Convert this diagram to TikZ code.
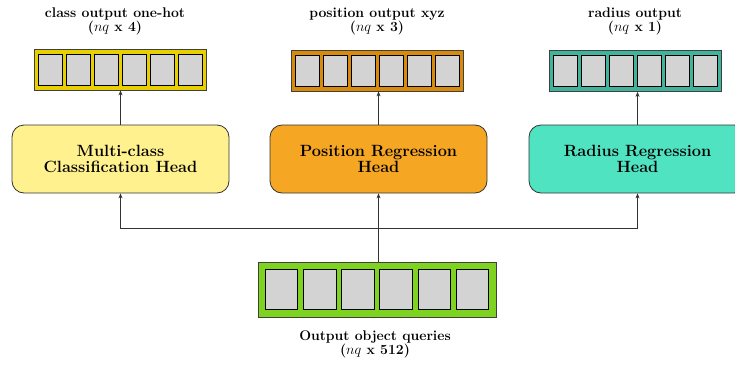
\documentclass[tikz,border=0pt]{standalone}
\usetikzlibrary{arrows.meta}
\definecolor{cellgray}{HTML}{D3D3D3}
\definecolor{baryellow}{HTML}{E8D000}
\definecolor{headyellow}{HTML}{FFF18E}
\definecolor{barorange}{HTML}{D88A0C}
\definecolor{headorange}{HTML}{F5A623}
\definecolor{barteal}{HTML}{42B39B}
\definecolor{headteal}{HTML}{50E3C2}
\definecolor{bargreen}{HTML}{7ED321}
\begin{document}
\begin{tikzpicture}[x=1pt,y=-1pt,
  head/.style={draw=black!80, line width=0.8pt, rounded corners=12pt, minimum width=217pt, minimum height=68pt, align=center, inner sep=0pt, font=\fontsize{16.3}{16.5}\selectfont\bfseries},
  bar/.style={draw=black!75, line width=0.8pt, minimum width=172pt, minimum height=41pt, inner sep=0pt},
  bigbar/.style={draw=black!75, line width=0.8pt, minimum width=238pt, minimum height=55pt, inner sep=0pt},
  cell/.style={draw=black, fill=cellgray, line width=0.8pt, minimum width=24pt, minimum height=31pt, inner sep=0pt},
  bigcell/.style={draw=black, fill=cellgray, line width=0.8pt, minimum width=32.5pt, minimum height=40pt, inner sep=0pt},
  lbl/.style={align=center, inner sep=0pt, font=\fontsize{14}{14}\selectfont\bfseries},
  arr/.style={-{Stealth[length=5pt,width=4pt]}, line width=0.7pt, draw=black!80}]
\useasboundingbox (0,0) rectangle (735,364);
\clip (0,0) rectangle (735,364);
% heads
\node[head, fill=headyellow] (hc) at (120.5,159) {Multi-class\\Classification Head};
\node[head, fill=headorange] (hp) at (378.5,159) {Position Regression\\Head};
\node[head, fill=headteal] (hr) at (637.5,159) {Radius Regression\\Head};
% output bars
\node[bar, fill=baryellow] (bc) at (120,69.5) {};
\node[bar, fill=barorange] (bp) at (377,70.5) {};
\node[bar, fill=barteal] (br) at (635,71) {};
\foreach \i in {0,...,5}{
  \node[cell] (bc\i) at (120.5-70+28*\i,69.5) {};
  \node[cell] (bp\i) at (377.5-70+28*\i,70.5) {};
  \node[cell] (br\i) at (635.5-70+28*\i,71) {};
}
% labels
\node[lbl] (lc) at (115,21) {class output one-hot\\($nq$ x 4)};
\node[lbl] (lp) at (377,21) {position output xyz\\($nq$ x 3)};
\node[lbl] (lr) at (635,21) {radius output\\($nq$ x 1)};
% bottom queries
\node[bigbar, fill=bargreen] (q) at (377,289.5) {};
\foreach \i in {0,...,5}{
  \node[bigcell] (q\i) at (377-95.5+38.2*\i,289) {};
}
\node[lbl] (lq) at (375,344) {Output object queries\\($nq$ x 512)};
% connectors
\coordinate (bus) at (378.5,228);
\draw[arr] (hc.north) -- (hc.north |- bc.south);
\draw[arr] (hp.north) -- (hp.north |- bp.south);
\draw[arr] (hr.north) -- (hr.north |- br.south);
\draw[arr] (q.north -| hp.south) -- (hp.south);
\draw[arr] (bus) -| (hc.south);
\draw[arr] (bus) -| (hr.south);
\end{tikzpicture}
\end{document}
